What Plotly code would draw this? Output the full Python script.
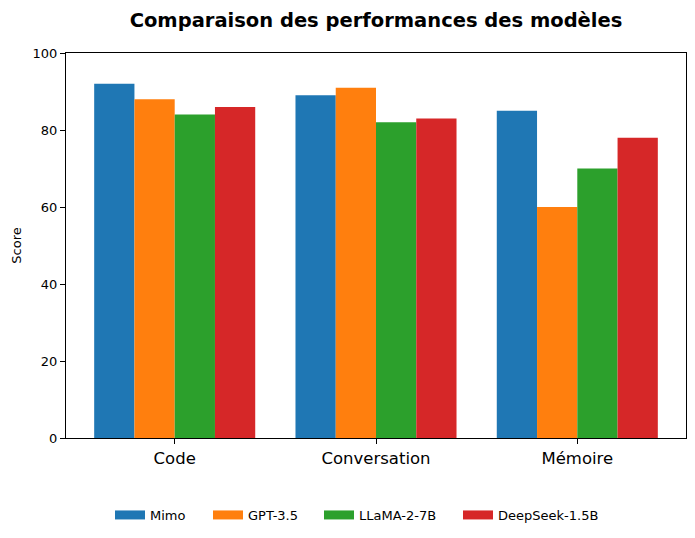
import plotly.graph_objects as go

categories = ["Code", "Conversation", "Mémoire"]
models = ["Mimo", "GPT-3.5", "LLaMA-2-7B", "DeepSeek-1.5B"]
mimo = [92, 89, 85]
gpt35 = [88, 91, 60]
llama = [84, 82, 70]
deepseek = [86, 83, 78]
colors = ["#1f77b4", "#ff7f0e", "#2ca02c", "#d62728"]
series = [mimo, gpt35, llama, deepseek]

font_family = "DejaVu Sans"

# page has an 8px body margin; compensate
W, H = 687, 530
OFF = 8
PL, PR = 66, 686  # plot area on page (px)

# legend swatch start positions on page (px)
legend_px = [115, 213, 324, 463]
legend_names = ["legend", "legend2", "legend3", "legend4"]

fig = go.Figure()
for name, vals, col in zip(models, series, colors):
    fig.add_trace(go.Bar(x=categories, y=vals, name=name, showlegend=False,
                         marker=dict(color=col, line=dict(width=0))))
# legend swatches as wide rectangles (matplotlib style)
for name, col, lg in zip(models, colors, legend_names):
    fig.add_trace(go.Scatter(x=[None], y=[None], mode="lines", name=name,
                             legend=lg, line=dict(color=col, width=9)))

legend_common = dict(orientation="h", xanchor="left", y=-0.2, yanchor="middle",
                     font=dict(size=13), bgcolor="rgba(0,0,0,0)", itemwidth=30,
                     borderwidth=0)
legends = {}
for lg, px in zip(legend_names, legend_px):
    legends[lg] = dict(legend_common, x=(px - 5 - PL) / (PR - PL))

fig.update_layout(
    width=W, height=H,
    barmode="group", bargap=0.2, bargroupgap=0,
    plot_bgcolor="white", paper_bgcolor="white",
    margin=dict(l=PL - OFF, r=9, t=53 - OFF, b=100, autoexpand=False),
    font=dict(family=font_family, size=13, color="black"),
    title=dict(text="<b>Comparaison des performances des modèles</b>",
               x=(376 - OFF) / W, xanchor="center",
               y=1 - (20 - OFF) / H, yanchor="middle",
               font=dict(size=19.5, family=font_family, color="black")),
    xaxis=dict(range=[-0.54, 2.54], showline=True, linecolor="black", linewidth=1,
               mirror=True, ticks="outside", ticklen=5, tickcolor="black",
               tickfont=dict(size=16.5), showgrid=False, zeroline=False),
    yaxis=dict(range=[0, 100], tickvals=[0, 20, 40, 60, 80, 100],
               showline=True, linecolor="black", linewidth=1, mirror=True,
               ticks="outside", ticklen=5, tickcolor="black",
               tickfont=dict(size=13), showgrid=False, zeroline=False,
               title=dict(text="Score", font=dict(size=13), standoff=8)),
    showlegend=True,
    **legends,
)

fig.write_html("out.html")
